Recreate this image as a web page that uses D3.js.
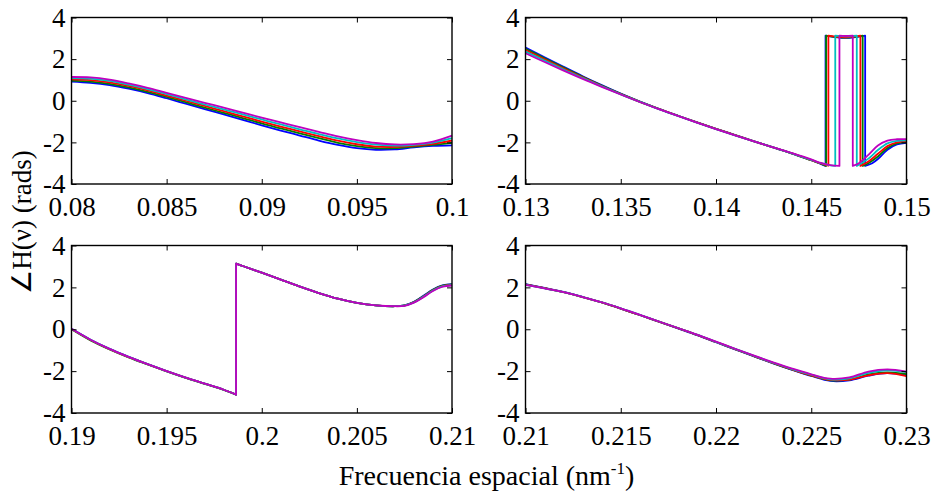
<!DOCTYPE html>
<html>
<head>
<meta charset="utf-8">
<script src="https://cdn.jsdelivr.net/npm/d3@7"></script>
<style>
  html, body { margin: 0; padding: 0; background: #fff; }
  svg { display: block; }
</style>
</head>
<body>
<svg id="chart" width="936" height="494"></svg>
<script>
// ---------------- DATA ----------------
const seriesNames = ["s1", "s2", "s3", "s4", "s5"];
const yTicks = [-4, -2, 0, 2, 4];
const xTicks1 = [0.08, 0.085, 0.09, 0.095, 0.1];
const xTicks2 = [0.13, 0.135, 0.14, 0.145, 0.15];
const xTicks3 = [0.19, 0.195, 0.2, 0.205, 0.21];
const xTicks4 = [0.21, 0.215, 0.22, 0.225, 0.23];

// Panel 1 (0.08 - 0.10)
const p1X = [0.080,0.081,0.082,0.083,0.084,0.085,0.086,0.087,0.088,0.089,0.090,0.091,0.092,0.093,0.094,0.095,0.096,0.097,0.098,0.099,0.100];
const p1S1 = [0.92,0.86,0.75,0.58,0.37,0.12,-0.14,-0.40,-0.66,-0.92,-1.18,-1.43,-1.67,-1.91,-2.12,-2.28,-2.36,-2.34,-2.24,-2.17,-2.14];
const p1S2 = [0.97,0.92,0.81,0.64,0.43,0.19,-0.07,-0.33,-0.58,-0.83,-1.09,-1.33,-1.57,-1.80,-2.02,-2.18,-2.28,-2.28,-2.20,-2.12,-2.02];
const p1S3 = [1.03,0.99,0.88,0.71,0.50,0.25,0.00,-0.25,-0.50,-0.75,-1.00,-1.24,-1.47,-1.70,-1.92,-2.09,-2.20,-2.22,-2.16,-2.07,-1.91];
const p1S4 = [1.09,1.06,0.95,0.77,0.56,0.32,0.07,-0.18,-0.41,-0.66,-0.90,-1.14,-1.37,-1.60,-1.81,-1.99,-2.11,-2.16,-2.12,-2.01,-1.80];
const p1S5 = [1.14,1.12,1.01,0.83,0.62,0.38,0.14,-0.10,-0.33,-0.57,-0.81,-1.04,-1.27,-1.49,-1.71,-1.89,-2.03,-2.10,-2.08,-1.96,-1.68];

// Panel 2 (0.13 - 0.15): smooth descent + wrapped tail (repeated x = phase jump)
const p2X = [0.130,0.131,0.132,0.133,0.134,0.135,0.136,0.137,0.138,0.139,0.140,0.141,0.142,0.143,0.144,0.145];
const p2S1 = [2.56,2.09,1.63,1.18,0.75,0.34,-0.04,-0.39,-0.72,-1.04,-1.35,-1.65,-1.95,-2.24,-2.54,-2.86];
const p2S2 = [2.50,2.04,1.59,1.15,0.73,0.33,-0.04,-0.39,-0.72,-1.04,-1.35,-1.65,-1.95,-2.24,-2.54,-2.86];
const p2S3 = [2.44,1.99,1.55,1.12,0.71,0.32,-0.05,-0.39,-0.72,-1.04,-1.35,-1.65,-1.95,-2.24,-2.53,-2.85];
const p2S4 = [2.36,1.93,1.50,1.09,0.69,0.31,-0.05,-0.40,-0.73,-1.05,-1.36,-1.66,-1.95,-2.24,-2.53,-2.84];
const p2S5 = [2.28,1.86,1.45,1.05,0.67,0.30,-0.06,-0.40,-0.73,-1.05,-1.36,-1.66,-1.95,-2.24,-2.52,-2.82];
const p2Tail1 = [[0.1455,-3.03],[0.14575,-3.13],[0.14575,3.13],[0.1468,3.02],[0.14783,3.13],[0.14783,-3.13],[0.1482,-3.0],[0.1485,-2.8],[0.149,-2.35],[0.1495,-2.1],[0.150,-2.02]];
const p2Tail2 = [[0.1455,-3.02],[0.14578,-3.13],[0.14578,3.13],[0.1468,3.03],[0.1477,3.13],[0.1477,-3.13],[0.148,-3.0],[0.1485,-2.68],[0.149,-2.27],[0.1495,-2.05],[0.150,-1.99]];
const p2Tail3 = [[0.1455,-3.01],[0.1459,-3.12],[0.1459,3.13],[0.1468,3.05],[0.14758,3.13],[0.14758,-3.13],[0.148,-2.92],[0.1485,-2.55],[0.149,-2.18],[0.1495,-2.0],[0.150,-1.95]];
const p2Tail4 = [[0.1455,-3.0],[0.146,-3.1],[0.14626,-3.13],[0.14626,3.13],[0.1468,3.09],[0.14739,3.13],[0.14739,-3.13],[0.148,-2.78],[0.1485,-2.37],[0.149,-2.05],[0.1495,-1.93],[0.150,-1.9]];
const p2Tail5 = [[0.1455,-2.99],[0.146,-3.09],[0.14648,-3.13],[0.14648,3.13],[0.1468,3.11],[0.14718,3.13],[0.14718,-3.13],[0.1475,-3.0],[0.148,-2.6],[0.1485,-2.15],[0.149,-1.92],[0.1495,-1.85],[0.150,-1.84]];

// Panel 3 (0.19 - 0.21): drop to -pi, jump, rise
const p3DropX = [0.190,0.191,0.192,0.193,0.194,0.195,0.196,0.197,0.198,0.19865];
const p3Drop1 = [0.02,-0.50,-0.94,-1.32,-1.67,-2.00,-2.31,-2.60,-2.89,-3.12];
const p3Drop2 = [0.00,-0.53,-0.96,-1.34,-1.68,-2.01,-2.32,-2.61,-2.90,-3.12];
const p3Drop3 = [0.01,-0.51,-0.95,-1.33,-1.67,-2.00,-2.31,-2.60,-2.89,-3.12];
const p3Drop4 = [0.02,-0.50,-0.94,-1.32,-1.67,-2.00,-2.31,-2.60,-2.89,-3.12];
const p3Drop5 = [0.02,-0.50,-0.94,-1.32,-1.67,-2.00,-2.31,-2.60,-2.89,-3.12];
const p3RiseX = [0.19865,0.199,0.200,0.201,0.202,0.203,0.204,0.205,0.206,0.207,0.2075,0.208,0.2085,0.209,0.2095,0.210];
const p3Rise1 = [3.13,3.02,2.70,2.37,2.04,1.73,1.46,1.26,1.14,1.10,1.14,1.31,1.60,1.90,2.10,2.16];
const p3Rise2 = [3.13,3.02,2.70,2.37,2.04,1.73,1.46,1.26,1.14,1.10,1.14,1.30,1.58,1.88,2.08,2.14];
const p3Rise3 = [3.13,3.02,2.70,2.37,2.04,1.73,1.46,1.26,1.14,1.10,1.13,1.29,1.56,1.86,2.06,2.12];
const p3Rise4 = [3.13,3.02,2.70,2.37,2.04,1.73,1.46,1.26,1.14,1.10,1.13,1.28,1.55,1.85,2.05,2.11];
const p3Rise5 = [3.13,3.02,2.70,2.37,2.04,1.73,1.46,1.26,1.14,1.10,1.12,1.27,1.53,1.83,2.03,2.09];

// Panel 4 (0.21 - 0.23)
const p4X = [0.210,0.211,0.212,0.213,0.214,0.215,0.216,0.217,0.218,0.219,0.220,0.221,0.222,0.223,0.224,0.225,0.226,0.227,0.228,0.229,0.230];
const p4S1 = [2.15,1.97,1.78,1.54,1.28,0.99,0.68,0.36,0.04,-0.28,-0.62,-0.96,-1.30,-1.63,-1.94,-2.23,-2.47,-2.44,-2.22,-2.10,-2.20];
const p4S2 = [2.14,1.96,1.77,1.54,1.28,0.99,0.68,0.36,0.05,-0.27,-0.61,-0.95,-1.29,-1.62,-1.93,-2.21,-2.44,-2.41,-2.16,-2.06,-2.14];
const p4S3 = [2.13,1.96,1.77,1.54,1.28,0.99,0.68,0.36,0.05,-0.27,-0.61,-0.95,-1.28,-1.61,-1.92,-2.20,-2.42,-2.40,-2.20,-2.10,-2.24];
const p4S4 = [2.12,1.95,1.77,1.54,1.29,1.00,0.69,0.37,0.06,-0.26,-0.60,-0.94,-1.27,-1.60,-1.90,-2.17,-2.39,-2.34,-2.08,-1.96,-2.05];
const p4S5 = [2.12,1.95,1.77,1.54,1.29,1.00,0.69,0.37,0.06,-0.26,-0.59,-0.93,-1.26,-1.58,-1.88,-2.15,-2.36,-2.30,-2.02,-1.92,-2.02];

const colors = ["#0000ff", "#008000", "#ff0000", "#00bfbf", "#bf00bf"];

// ---------------- BUILD ----------------
const zip = (xs, ys) => xs.map((x, i) => [x, ys[i]]);
const panels = [
  { domain: [0.08, 0.1], ticks: xTicks1, col: 0, row: 0,
    series: [p1S1, p1S2, p1S3, p1S4, p1S5].map(v => zip(p1X, v)) },
  { domain: [0.13, 0.15], ticks: xTicks2, col: 1, row: 0,
    series: [[p2S1, p2Tail1], [p2S2, p2Tail2], [p2S3, p2Tail3], [p2S4, p2Tail4], [p2S5, p2Tail5]]
      .map(([v, t]) => zip(p2X, v).concat(t)) },
  { domain: [0.19, 0.21], ticks: xTicks3, col: 0, row: 1,
    series: [[p3Drop1, p3Rise1], [p3Drop2, p3Rise2], [p3Drop3, p3Rise3], [p3Drop4, p3Rise4], [p3Drop5, p3Rise5]]
      .map(([d, r]) => zip(p3DropX, d).concat(zip(p3RiseX, r))) },
  { domain: [0.21, 0.23], ticks: xTicks4, col: 1, row: 1,
    series: [p4S1, p4S2, p4S3, p4S4, p4S5].map(v => zip(p4X, v)) }
];

const colX = [[71.5, 452], [525.5, 906.5]];
const rowY = [[17.5, 184], [245.5, 413]];
const FONT = "'Liberation Serif', 'Times New Roman', Times, serif";

const svg = d3.select("#chart");

panels.forEach(p => {
  const [x0, x1] = colX[p.col];
  const [y0, y1] = rowY[p.row];
  const x = d3.scaleLinear().domain(p.domain).range([x0, x1]);
  const y = d3.scaleLinear().domain([-4, 4]).range([y1, y0]);
  const g = svg.append("g");

  const line = d3.line().x(d => x(d[0])).y(d => y(d[1])).curve(d3.curveCatmullRom.alpha(0.5));
  const pathFor = pts => {
    const segs = [];
    let cur = [pts[0]];
    for (let i = 1; i < pts.length; i++) {
      if (pts[i][0] === pts[i - 1][0]) { segs.push(cur); cur = [pts[i]]; }
      else cur.push(pts[i]);
    }
    segs.push(cur);
    return segs.map((s, i) => { const d = line(s); return i ? "L" + d.slice(1) : d; }).join("");
  };

  p.series.forEach((pts, i) => {
    g.append("path")
      .attr("d", pathFor(pts))
      .attr("fill", "none")
      .attr("stroke", colors[i])
      .attr("stroke-width", 1.8)
      .attr("stroke-linejoin", "round");
  });

  const fmt = d => String(d);
  const axB = g.append("g").attr("transform", `translate(0,${y1})`)
    .call(d3.axisBottom(x).tickValues(p.ticks).tickSizeInner(-5).tickSizeOuter(0).tickPadding(13).tickFormat(fmt));
  const axT = g.append("g").attr("transform", `translate(0,${y0})`)
    .call(d3.axisTop(x).tickValues(p.ticks).tickSizeInner(-5).tickSizeOuter(0).tickFormat(""));
  const axL = g.append("g").attr("transform", `translate(${x0},0)`)
    .call(d3.axisLeft(y).tickValues(yTicks).tickSizeInner(-5).tickSizeOuter(0).tickPadding(6).tickFormat(fmt));
  const axR = g.append("g").attr("transform", `translate(${x1},0)`)
    .call(d3.axisRight(y).tickValues(yTicks).tickSizeInner(-5).tickSizeOuter(0).tickFormat(""));
  [axB, axT, axL, axR].forEach(a => {
    a.select(".domain").remove();
    a.selectAll("line").attr("stroke", "#000").attr("stroke-width", 1);
    a.selectAll("text").attr("font-family", FONT).attr("font-size", 27).attr("fill", "#000");
  });

  g.append("rect")
    .attr("x", x0).attr("y", y0)
    .attr("width", x1 - x0).attr("height", y1 - y0)
    .attr("fill", "none").attr("stroke", "#000").attr("stroke-width", 1.4);
});

// Y label
svg.append("text")
  .attr("transform", "translate(31,222) rotate(-90)")
  .attr("text-anchor", "middle")
  .attr("font-family", FONT)
  .attr("font-size", 27)
  .text("∠H(ν) (rads)");

// X label
const xl = svg.append("text")
  .attr("x", 486.5).attr("y", 485)
  .attr("text-anchor", "middle")
  .attr("font-family", FONT)
  .attr("font-size", 28);
xl.append("tspan").text("Frecuencia espacial (nm");
xl.append("tspan").attr("font-size", 17).attr("dy", -11).text("-1");
xl.append("tspan").attr("dy", 11).text(")");
</script>
</body>
</html>
